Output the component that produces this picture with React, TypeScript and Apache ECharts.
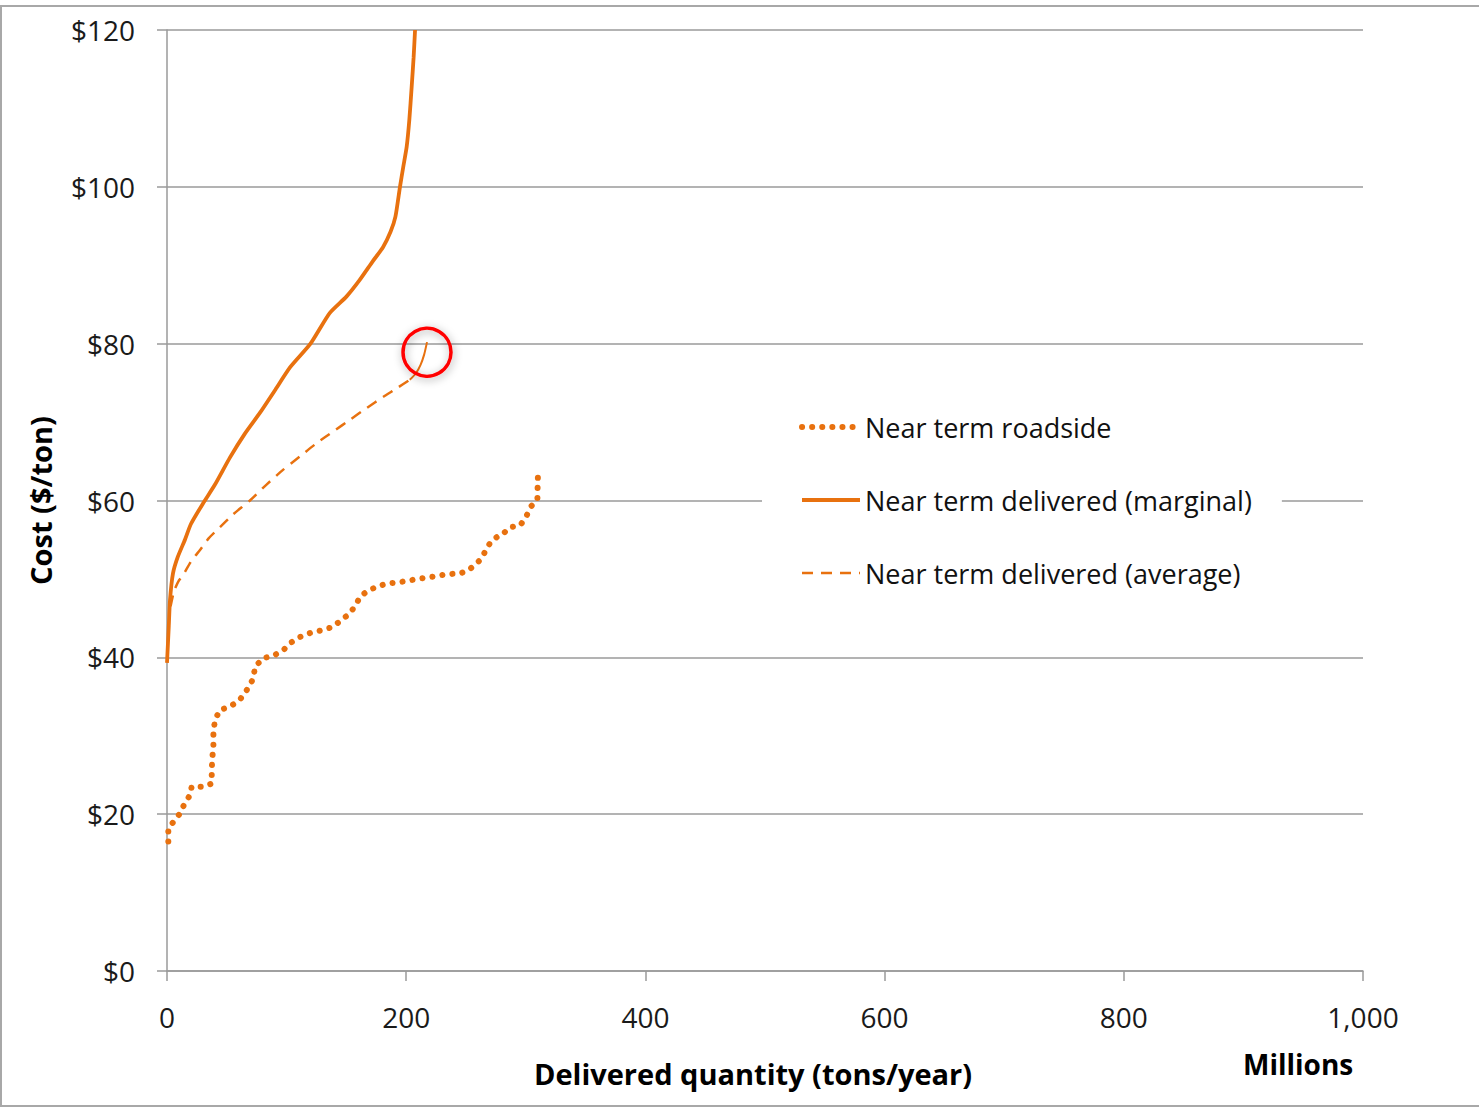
import React, { useEffect, useRef } from "react";
import * as echarts from "echarts";

// Near term delivered (marginal) cost curve
const marginalQty = [0, 1.5, 2.5, 5, 9, 15, 20, 30, 40, 52.7, 65, 77.8, 90, 103, 120, 136, 150, 161, 172, 180.6, 187, 191, 194.8, 197.5, 200.4, 202.6, 204.6, 206.2, 207.4];
const marginalCost = [39.3, 44, 47.3, 50.7, 52.8, 55, 57, 59.6, 62, 65.5, 68.5, 71.2, 74, 77, 80, 83.9, 86, 88.1, 90.5, 92.3, 94.3, 96.2, 100, 102.5, 105.1, 108.5, 112.8, 116.5, 120];

// Near term delivered (average) cost curve, dashed part
const averageQty = [3, 6, 10, 13.4, 20, 27.6, 35, 44.3, 55, 69.4, 83, 97, 111, 125, 139, 153, 167, 180.6, 192, 203];
const averageCost = [46.5, 48.5, 49.8, 50.5, 52.2, 53.7, 55.2, 56.6, 58.2, 60, 62, 63.9, 65.6, 67.3, 68.8, 70.3, 71.8, 73.2, 74.3, 75.4];

// Last stretch of the average curve, drawn solid
const averageTailQty = [203, 208, 212, 215, 217.4];
const averageTailCost = [75.4, 76.2, 77.3, 78.6, 80.2];

// Highlighted end of the average curve
const highlightQty = 217.4;
const highlightCost = 78.9;

// Near term roadside cost curve
const roadsideQty = [1.1, 1.1, 5.3, 10.9, 13.6, 16.5, 19.2, 20.6, 30.4, 37.4, 37.4, 37.9, 38.8, 38.8, 40.1, 44.3, 52.7, 61, 66.6, 72.2, 73.6, 80.5, 88.9, 97.2, 102.8, 111.2, 119.6, 130.7, 139, 146, 153, 158.6, 161.4, 167, 175.3, 183.7, 194.8, 206, 214.4, 222.7, 233.9, 245, 252, 259, 263, 266.7, 270.6, 277.9, 280.7, 286.8, 295.2, 300.2, 304.1, 309.7, 309.9, 310.2];
const roadsideCost = [16.5, 18.2, 19, 20.1, 21, 21.8, 22.4, 23.5, 23.5, 23.9, 25.6, 27.2, 28.7, 30.4, 32, 33.3, 33.7, 34.6, 35.8, 37.3, 38.8, 39.9, 40.2, 40.9, 41.8, 42.6, 43.1, 43.5, 43.9, 44.8, 45.6, 46.9, 47.7, 48.4, 49, 49.4, 49.6, 49.9, 50.1, 50.3, 50.6, 50.7, 51.1, 52, 52.6, 53.7, 54.7, 55.6, 55.7, 56.6, 56.8, 57.9, 59.2, 60.1, 61.8, 63.5];

const seriesNames = ["Near term roadside", "Near term delivered (marginal)", "Near term delivered (average)"];

const yTicks = [0, 20, 40, 60, 80, 100, 120];
const xTicks = [0, 200, 400, 600, 800, 1000];

const pairs = (xs: number[], ys: number[]) => xs.map((x, i) => [x, ys[i]]);

const ORANGE = "#e8710f";
const NO_FILL = "rgba(0,0,0,0)";
const FONT = "'Open Sans', sans-serif";

export default function App() {
  const ref = useRef<HTMLDivElement>(null);

  useEffect(() => {
    if (!ref.current) return;
    const chart = echarts.init(ref.current, undefined, { renderer: "svg" });
    chart.setOption({
      animation: false,
      backgroundColor: "#ffffff",
      grid: { left: 167, right: 116, top: 30, bottom: 139 },
      xAxis: {
        type: "value",
        min: xTicks[0],
        max: xTicks[xTicks.length - 1],
        interval: 200,
        name: "Delivered quantity (tons/year)",
        nameLocation: "middle",
        nameGap: 88,
        nameTextStyle: { fontFamily: FONT, fontSize: 29, fontWeight: "bold", color: "#000", padding: [0, 24, 0, 0] },
        axisLine: { show: true, lineStyle: { color: "#9a9a9a", width: 1.5 } },
        axisTick: { show: true, length: 10, inside: false, lineStyle: { color: "#9a9a9a", width: 1.5 } },
        axisLabel: {
          margin: 32,
          fontFamily: FONT,
          fontSize: 28,
          color: "#1a1a1a",
          formatter: (v: number) => v.toLocaleString("en-US"),
        },
        splitLine: { show: false },
      },
      yAxis: {
        type: "value",
        min: yTicks[0],
        max: yTicks[yTicks.length - 1],
        interval: 20,
        name: "Cost ($/ton)",
        nameLocation: "middle",
        nameGap: 112,
        nameTextStyle: { fontFamily: FONT, fontSize: 29, fontWeight: "bold", color: "#000" },
        axisLine: { show: true, lineStyle: { color: "#9a9a9a", width: 1.5 } },
        axisTick: { show: true, length: 10, lineStyle: { color: "#9a9a9a", width: 1.5 } },
        axisLabel: {
          margin: 32,
          fontFamily: FONT,
          fontSize: 28,
          color: "#1a1a1a",
          formatter: (v: number) => "$" + v,
        },
        splitLine: { show: true, lineStyle: { color: "#9a9a9a", width: 1.5 } },
      },
      legend: {
        data: seriesNames,
        orient: "vertical",
        left: 762,
        top: 404,
        padding: [8, 30, 8, 37],
        backgroundColor: "#ffffff",
        itemWidth: 58,
        itemHeight: 14,
        itemGap: 43,
        selectedMode: false,
        lineStyle: { width: "inherit", type: "inherit", cap: "inherit" },
        itemStyle: { color: NO_FILL, borderWidth: 0 },
        textStyle: { fontFamily: FONT, fontSize: 27, color: "#111", lineHeight: 30 },
      },
      graphic: [
        {
          type: "rect",
          silent: true,
          z: -10,
          shape: { x: 1, y: 6, width: 1500, height: 1100 },
          style: { fill: "none", stroke: "#a8a8a8", lineWidth: 2 },
        },
        {
          type: "text",
          left: 1243,
          top: 1050,
          style: { text: "Millions", fontFamily: FONT, fontSize: 28, fontWeight: "bold", fill: "#000" },
        },
      ],
      series: [
        {
          name: seriesNames[0],
          type: "line",
          symbol: "none",
          data: pairs(roadsideQty, roadsideCost),
          lineStyle: { color: ORANGE, width: 6, type: [0.1, 10], cap: "round" },
          itemStyle: { color: NO_FILL, borderWidth: 0 },
          z: 3,
        },
        {
          name: seriesNames[1],
          type: "line",
          symbol: "none",
          smooth: 0.2,
          data: pairs(marginalQty, marginalCost),
          lineStyle: { color: ORANGE, width: 3.8 },
          itemStyle: { color: NO_FILL, borderWidth: 0 },
          z: 3,
        },
        {
          name: seriesNames[2],
          type: "line",
          symbol: "none",
          smooth: 0.2,
          data: pairs(averageQty, averageCost),
          lineStyle: { color: ORANGE, width: 2.5, type: [11, 8] },
          itemStyle: { color: NO_FILL, borderWidth: 0 },
          z: 3,
        },
        {
          name: "average-tail",
          type: "line",
          symbol: "none",
          smooth: 0.2,
          data: pairs(averageTailQty, averageTailCost),
          lineStyle: { color: ORANGE, width: 2 },
          itemStyle: { color: NO_FILL, borderWidth: 0 },
          z: 3,
          markPoint: {
            symbol: "circle",
            symbolSize: 48,
            silent: true,
            label: { show: false },
            itemStyle: {
              color: NO_FILL,
              borderColor: "#ff0000",
              borderWidth: 3.5,
              shadowBlur: 8,
              shadowColor: "rgba(0,0,0,0.35)",
              shadowOffsetX: 1,
              shadowOffsetY: 2,
            },
            data: [{ coord: [highlightQty, highlightCost] }],
          },
        },
      ],
    });
    return () => chart.dispose();
  }, []);

  return (
    <div
      ref={ref}
      style={{ position: "fixed", left: 0, top: 0, width: 1479, height: 1110, background: "#ffffff" }}
    />
  );
}
